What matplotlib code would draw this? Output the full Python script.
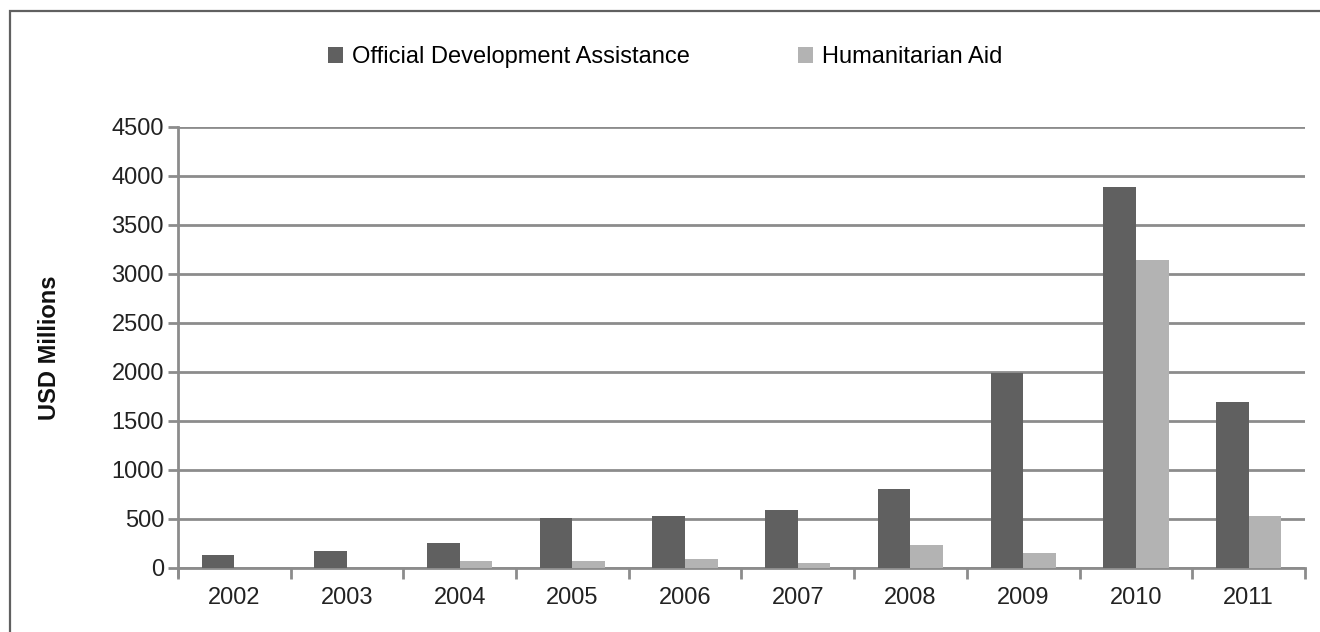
import numpy as np
import matplotlib.pyplot as plt
from matplotlib.patches import Rectangle

years = ['2002', '2003', '2004', '2005', '2006', '2007', '2008', '2009', '2010', '2011']
oda = [130, 170, 255, 515, 530, 590, 810, 1990, 3890, 1690]
humanitarian = [0, 0, 70, 70, 90, 55, 230, 155, 3140, 530]

dark = '#606060'
light = '#b3b3b3'
grid_col = '#8c8c8c'

plt.rcParams['font.family'] = ['Liberation Sans', 'DejaVu Sans']

fig = plt.figure(figsize=(13.2, 6.32), dpi=100)
# outer frame of the figure (open on the right and bottom edges)
fig.patches.append(Rectangle((9.5 / 1320, -0.1), 1.2, 1 - 11 / 632 + 0.1, transform=fig.transFigure,
                             fill=False, edgecolor='#606060', linewidth=1.6))

ax = fig.add_axes([0.1348, 0.1013, 0.9886 - 0.1348, 0.6978])
x = np.arange(len(years))
w = 0.29
ax.bar(x - w / 2, oda, w, color=dark, label='Official Development Assistance', zorder=3)
ax.bar(x + w / 2, humanitarian, w, color=light, label='Humanitarian Aid', zorder=3)

ax.set_xlim(-0.5, len(years) - 0.5)
ax.set_yticks(np.arange(0, 4501, 500))
ax.yaxis.grid(True, color=grid_col, linewidth=2, zorder=0)
ax.set_axisbelow(True)

ax.set_xticks(x)
ax.set_xticklabels(years)
ax.set_xticks(np.arange(-0.5, len(years)), minor=True)
ax.tick_params(axis='x', which='major', length=0, pad=14, labelsize=17, labelcolor='#222222')
ax.tick_params(axis='x', which='minor', length=8, width=2, color=grid_col)
ax.tick_params(axis='y', length=7, width=2, color=grid_col, pad=3, labelsize=17, labelcolor='#222222')

for side in ['top', 'right']:
    ax.spines[side].set_visible(False)
for side in ['left', 'bottom']:
    ax.spines[side].set_color(grid_col)
    ax.spines[side].set_linewidth(2)
# y axis line runs down to the end of the x tick marks, as in the original
ax.spines['left'].set_bounds(-80, 4500)
ax.set_ylim(0, 4500)
ax.spines['left'].set_clip_on(False)

ax.set_ylabel('USD Millions', fontsize=17, fontweight='bold', color='#111111')
ax.yaxis.set_label_coords(-0.104, 0.5)

fig.legend(loc='center', bbox_to_anchor=(665 / 1320, 1 - 57 / 632), ncol=2, frameon=False,
           fontsize=17, handlelength=0.65, handleheight=0.65, handletextpad=0.35, columnspacing=4.6)

plt.savefig('out.png', dpi=100)
